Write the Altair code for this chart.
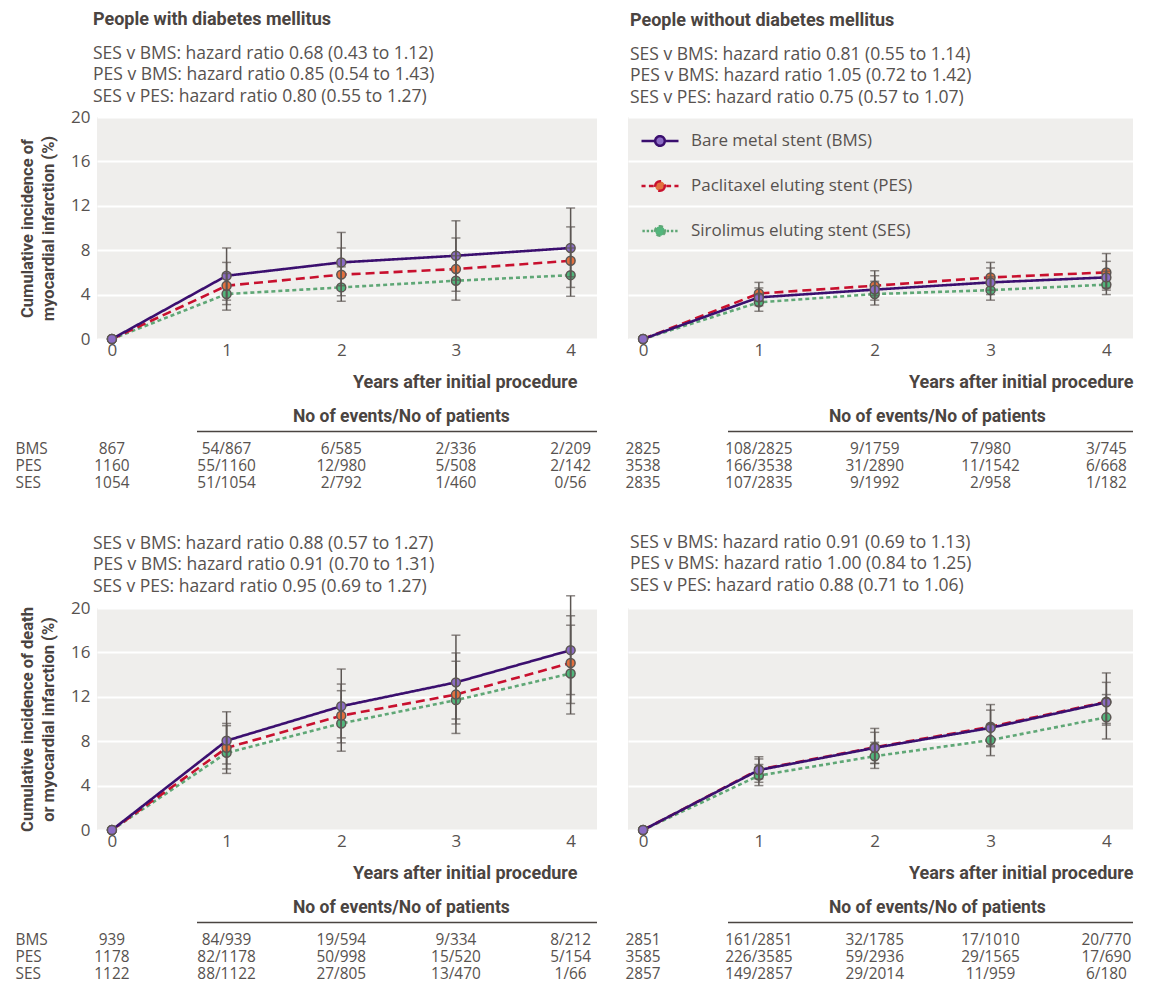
import altair as alt
import pandas as pd

# ---------------- data ----------------
years = [0, 1, 2, 3, 4]
stents = ["BMS", "PES", "SES"]
stent_names = ["Bare metal stent (BMS)", "Paclitaxel eluting stent (PES)", "Sirolimus eluting stent (SES)"]
draw_order = ["SES", "PES", "BMS"]

# Myocardial infarction, people with diabetes
mi_dm_est = {"BMS": [0, 5.7, 6.9, 7.5, 8.2], "PES": [0, 4.8, 5.8, 6.3, 7.05], "SES": [0, 4.05, 4.65, 5.25, 5.75]}
mi_dm_lo = {"BMS": [3.5, 4.8, 5.3, 5.6], "PES": [3.1, 3.9, 4.3, 4.65], "SES": [2.6, 3.4, 3.5, 3.85]}
mi_dm_hi = {"BMS": [8.2, 9.6, 10.65, 11.8], "PES": [6.9, 8.2, 9.1, 10.1], "SES": [5.9, 6.5, 7.5, 8.2]}

# Myocardial infarction, people without diabetes
mi_nodm_est = {"BMS": [0, 3.75, 4.45, 5.1, 5.55], "PES": [0, 4.1, 4.8, 5.55, 6.0], "SES": [0, 3.3, 4.05, 4.4, 4.9]}
mi_nodm_lo = {"BMS": [3.0, 3.5, 4.0, 4.4], "PES": [3.4, 3.9, 4.4, 4.6], "SES": [2.5, 3.06, 3.5, 4.0]}
mi_nodm_hi = {"BMS": [4.6, 5.7, 6.4, 7.0], "PES": [5.1, 6.15, 6.9, 7.7], "SES": [4.0, 5.2, 5.6, 6.1]}

# Death or myocardial infarction, people with diabetes
dmi_dm_est = {"BMS": [0, 8.05, 11.15, 13.3, 16.2], "PES": [0, 7.4, 10.3, 12.2, 15.05], "SES": [0, 6.95, 9.6, 11.7, 14.1]}
dmi_dm_lo = {"BMS": [5.95, 8.3, 10.0, 12.2], "PES": [5.5, 7.85, 9.55, 11.4], "SES": [5.1, 7.1, 8.7, 10.45]}
dmi_dm_hi = {"BMS": [10.65, 14.5, 17.55, 21.1], "PES": [9.6, 13.15, 15.95, 19.3], "SES": [9.4, 12.55, 15.2, 18.45]}

# Death or myocardial infarction, people without diabetes
dmi_nodm_est = {"BMS": [0, 5.4, 7.4, 9.2, 11.5], "PES": [0, 5.45, 7.45, 9.3, 11.55], "SES": [0, 4.9, 6.65, 8.1, 10.15]}
dmi_nodm_lo = {"BMS": [4.3, 6.0, 7.5, 9.45], "PES": [4.6, 6.0, 7.6, 9.6], "SES": [4.0, 5.55, 6.7, 8.2]}
dmi_nodm_hi = {"BMS": [6.6, 9.15, 11.3, 14.15], "PES": [6.4, 8.8, 10.8, 13.3], "SES": [5.9, 7.9, 9.5, 12.2]}

# Numbers at risk tables
mi_dm_tab = {"BMS": ["867", "54/867", "6/585", "2/336", "2/209"],
             "PES": ["1160", "55/1160", "12/980", "5/508", "2/142"],
             "SES": ["1054", "51/1054", "2/792", "1/460", "0/56"]}
mi_nodm_tab = {"BMS": ["2825", "108/2825", "9/1759", "7/980", "3/745"],
               "PES": ["3538", "166/3538", "31/2890", "11/1542", "6/668"],
               "SES": ["2835", "107/2835", "9/1992", "2/958", "1/182"]}
dmi_dm_tab = {"BMS": ["939", "84/939", "19/594", "9/334", "8/212"],
              "PES": ["1178", "82/1178", "50/998", "15/520", "5/154"],
              "SES": ["1122", "88/1122", "27/805", "13/470", "1/66"]}
dmi_nodm_tab = {"BMS": ["2851", "161/2851", "32/1785", "17/1010", "20/770"],
                "PES": ["3585", "226/3585", "59/2936", "29/1565", "17/690"],
                "SES": ["2857", "149/2857", "29/2014", "11/959", "6/180"]}

hr_mi_dm = ["SES v BMS: hazard ratio 0.68 (0.43 to 1.12)",
            "PES v BMS: hazard ratio 0.85 (0.54 to 1.43)",
            "SES v PES: hazard ratio 0.80 (0.55 to 1.27)"]
hr_mi_nodm = ["SES v BMS: hazard ratio 0.81 (0.55 to 1.14)",
              "PES v BMS: hazard ratio 1.05 (0.72 to 1.42)",
              "SES v PES: hazard ratio 0.75 (0.57 to 1.07)"]
hr_dmi_dm = ["SES v BMS: hazard ratio 0.88 (0.57 to 1.27)",
             "PES v BMS: hazard ratio 0.91 (0.70 to 1.31)",
             "SES v PES: hazard ratio 0.95 (0.69 to 1.27)"]
hr_dmi_nodm = ["SES v BMS: hazard ratio 0.91 (0.69 to 1.13)",
               "PES v BMS: hazard ratio 1.00 (0.84 to 1.25)",
               "SES v PES: hazard ratio 0.88 (0.71 to 1.06)"]

# ---------------- style ----------------
REG = "Open Sans"
BOLD = "Roboto"
TXT = "#57524f"
TTL = "#4a4441"
BG = "#efeeec"
LINE_COLORS = ["#3b0f6f", "#c8102e", "#5fa776"]
FILL_COLORS = ["#8b6cc4", "#e2703f", "#52b67c"]
DASHES = [[1, 0], [9, 5], [4, 3]]
EDGE = "#5c5653"
XDOM = [-0.13, 4.23]

SHAPES = [
    "M-1,0L-0.3,0M0.3,0L1,0M0.26,0A0.26,0.26,0,1,1,-0.26,0A0.26,0.26,0,1,1,0.26,0Z",
    "M-1,0L-0.78,0M-0.6,0L-0.34,0M0.34,0L0.6,0M0.78,0L1,0"
    "M0.26,0A0.26,0.26,0,1,1,-0.26,0A0.26,0.26,0,1,1,0.26,0Z",
    "M-0.95,0L-0.82,0M-0.72,0L-0.59,0M-0.49,0L-0.36,0M0.36,0L0.49,0M0.59,0L0.72,0M0.82,0L0.95,0"
    "M0.26,0A0.26,0.26,0,1,1,-0.26,0A0.26,0.26,0,1,1,0.26,0Z",
]


def curve_df(est, lo, hi):
    rows = []
    for s in draw_order:
        for i, yr in enumerate(years):
            rows.append({"stent": s, "year": yr, "value": est[s][i],
                         "lo": lo[s][i - 1] if i > 0 else est[s][i],
                         "hi": hi[s][i - 1] if i > 0 else est[s][i]})
    return pd.DataFrame(rows)


def table_df(tab):
    rows = []
    for s in stents:
        for i, yr in enumerate(years):
            rows.append({"stent": s, "year": yr, "txt": tab[s][i]})
    return pd.DataFrame(rows)


def plot_panel(est, lo, hi, left, width, height, title, offset, subtitle=None, ytitle=None, legend=False):
    df = curve_df(est, lo, hi)
    base = alt.Chart(df)
    xs = alt.Scale(domain=XDOM, nice=False, zero=False)
    ys = alt.Scale(domain=[0, 20], nice=False)
    xkw = dict(values=years, format="d", title="Years after initial procedure",
               titleFont=BOLD, titleFontSize=18, titleFontWeight="bold", titleColor=TTL,
               titleAnchor="end", titleAlign="right", titlePadding=15,
               labelFont=REG, labelFontSize=17, labelColor=TXT, labelPadding=3,
               ticks=False, domain=False, grid=False)
    if left:
        xkw["titleX"] = width - 20
    xaxis = alt.Axis(**xkw)
    yaxis_kw = dict(values=[0, 4, 8, 12, 16, 20], grid=True, gridColor="white", gridWidth=2,
                    domain=False, ticks=False, tickSize=0)
    if left:
        yaxis = alt.Axis(labels=True, labelFont=REG, labelFontSize=17, labelColor=TXT, labelPadding=7,
                         title=ytitle, titleFont=BOLD, titleFontSize=16.5, titleFontWeight="bold",
                         titleColor=TTL, titlePadding=14, titleLineHeight=21, **yaxis_kw)
    else:
        yaxis = alt.Axis(labels=False, title=None, **yaxis_kw)
    x = alt.X("year:Q", scale=xs, axis=xaxis)

    lines = base.mark_line(strokeWidth=2.6).encode(
        x=x, y=alt.Y("value:Q", scale=ys, axis=yaxis),
        stroke=alt.Stroke("stent:N", scale=alt.Scale(domain=stents, range=LINE_COLORS), legend=None),
        strokeDash=alt.StrokeDash("stent:N", scale=alt.Scale(domain=stents, range=DASHES), legend=None),
    )
    points = base.mark_circle(size=80, opacity=1, stroke=EDGE, strokeWidth=1.5).encode(
        x=x, y=alt.Y("value:Q", scale=ys, axis=yaxis),
        fill=alt.Fill("stent:N", scale=alt.Scale(domain=stents, range=FILL_COLORS), legend=None),
    )
    eb = base.transform_filter("datum.year > 0")
    bars = eb.mark_rule(color=EDGE, strokeWidth=1.5).encode(
        x=x, y=alt.Y("lo:Q", scale=ys, axis=yaxis), y2="hi:Q")
    cap_lo = eb.mark_tick(color=EDGE, thickness=1.5, size=9, orient="horizontal").encode(
        x=x, y=alt.Y("lo:Q", scale=ys, axis=yaxis))
    cap_hi = eb.mark_tick(color=EDGE, thickness=1.5, size=9, orient="horizontal").encode(
        x=x, y=alt.Y("hi:Q", scale=ys, axis=yaxis))
    layers = [lines, points, bars, cap_lo, cap_hi]

    if legend:
        label_map = "{" + ",".join(f"'{k}':'{v}'" for k, v in zip(stents, stent_names)) + "}"
        leg = alt.Legend(orient="none", legendX=12, legendY=4, title=None, direction="vertical",
                         rowPadding=15, labelOffset=11, labelFont=REG, labelFontSize=17, labelColor=TXT,
                         symbolSize=1369, symbolStrokeWidth=2.5, symbolOpacity=1, padding=0,
                         labelLimit=400, labelExpr=label_map + "[datum.label]")
        leg_layer = base.transform_filter("datum.year == 0").mark_point(
            filled=True, size=1, opacity=0).encode(
            x=x, y=alt.Y("value:Q", scale=ys, axis=yaxis),
            fill=alt.Fill("stent:N", scale=alt.Scale(domain=stents, range=FILL_COLORS), legend=leg),
            stroke=alt.Stroke("stent:N", scale=alt.Scale(domain=stents, range=LINE_COLORS), legend=leg),
            shape=alt.Shape("stent:N", scale=alt.Scale(domain=stents, range=SHAPES), legend=leg),
        )
        layers.insert(0, leg_layer)

    if subtitle is not None:
        tp = alt.TitleParams(text=title, subtitle=subtitle, anchor="start", frame="group",
                             font=BOLD, fontSize=18, fontWeight="bold", color=TTL,
                             subtitleFont=REG, subtitleFontSize=17.5, subtitleColor=TXT,
                             subtitleLineHeight=21.5, subtitlePadding=15.5, offset=offset,
                             dx=-4 if left else 2)
    else:
        tp = alt.TitleParams(text=title, anchor="start", frame="group",
                             font=REG, fontSize=17.5, fontWeight="normal", color=TXT,
                             lineHeight=21.5, offset=offset, dx=-4 if left else 2)

    return alt.layer(*layers).properties(
        width=width, height=height, title=tp,
        view=alt.ViewBackground(fill=BG, stroke=None),
    )


def table_panel(tab, left, width):
    df = table_df(tab)
    xs = alt.Scale(domain=XDOM, nice=False, zero=False)
    ysc = alt.Scale(type="band", domain=stents, paddingInner=0, paddingOuter=0.441, align=0)
    if left:
        yax = alt.Axis(labelAlign="left", labelPadding=82, ticks=False, tickSize=0, domain=False,
                       grid=False, labelFont=REG, labelFontSize=15.4, labelColor=TXT, title=None)
    else:
        yax = None
    text = alt.Chart(df).mark_text(font=REG, fontSize=15.4, color=TXT).encode(
        x=alt.X("year:Q", scale=xs, axis=None),
        y=alt.Y("stent:N", scale=ysc, axis=yax),
        text="txt:N",
    )
    rule = alt.Chart(pd.DataFrame({"k": [0]})).mark_rule(color=TTL, strokeWidth=1.5).encode(
        x=alt.value(100), x2=alt.value(width), y=alt.value(-9))
    tp = alt.TitleParams(text="No of events/No of patients", anchor="start", frame="group",
                         dx=196 if left else 201, font=BOLD, fontSize=17.5, fontWeight="bold",
                         color=TTL, offset=5)
    return alt.layer(rule, text).properties(width=width, height=66, title=tp)


WL, WR = 500, 505
H = 222

p1L = plot_panel(mi_dm_est, mi_dm_lo, mi_dm_hi, True, WL, H, "People with diabetes mellitus", 3,
                 subtitle=hr_mi_dm, ytitle=["Cumulative incidence of", "myocardial infarction (%)"])
p1R = plot_panel(mi_nodm_est, mi_nodm_lo, mi_nodm_hi, False, WR, H, "People without diabetes mellitus", 11,
                 subtitle=hr_mi_nodm, legend=True)
t1L = table_panel(mi_dm_tab, True, WL)
t1R = table_panel(mi_nodm_tab, False, WR)
p2L = plot_panel(dmi_dm_est, dmi_dm_lo, dmi_dm_hi, True, WL, H, hr_dmi_dm, 0,
                 ytitle=["Cumulative incidence of death", "or myocardial infarction (%)"])
p2R = plot_panel(dmi_nodm_est, dmi_nodm_lo, dmi_nodm_hi, False, WR, H, hr_dmi_nodm, 14)
t2L = table_panel(dmi_dm_tab, True, WL)
t2R = table_panel(dmi_nodm_tab, False, WR)

chart = alt.concat(
    p1L, p1R, t1L, t1R, p2L, p2R, t2L, t2R,
    columns=2, spacing={"row": 101.5, "column": 31}, bounds="flush", align="each",
).resolve_scale(
    x="independent", y="independent", fill="independent", stroke="independent",
    shape="independent", strokeDash="independent",
).resolve_legend(
    fill="independent", stroke="independent", shape="independent", strokeDash="independent",
).properties(
    padding={"left": 7, "top": 3, "right": 5, "bottom": 0},
    background="white",
).configure_view(stroke=None)

chart.save("out.html", embed_options={"renderer": "svg", "actions": False})
